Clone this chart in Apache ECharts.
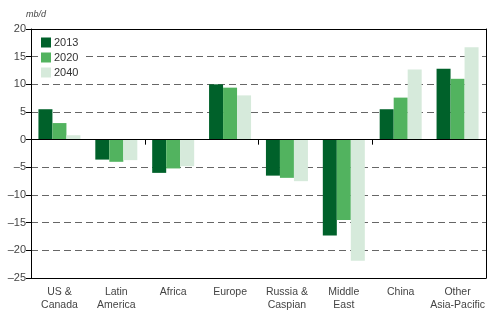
<!DOCTYPE html>
<html><head><meta charset="utf-8">
<script src="https://cdn.jsdelivr.net/npm/echarts@6/dist/echarts.min.js"></script>
<style>html,body{margin:0;padding:0;background:#fff}#c{width:497px;height:329px}</style>
</head><body><div id="c"></div>
<script>
const categories = ['US &\nCanada', 'Latin\nAmerica', 'Africa', 'Europe', 'Russia &\nCaspian', 'Middle\nEast', 'China', 'Other\nAsia-Pacific'];
const s2013 = [5.5, -3.6, -6.0, 10.0, -6.5, -17.3, 5.5, 12.8];
const s2020 = [3.0, -4.0, -5.2, 9.4, -6.9, -14.5, 7.6, 11.0];
const s2040 = [0.8, -3.7, -4.8, 8.0, -7.5, -21.9, 12.7, 16.7];
const yTicks = {min: -25, max: 20, interval: 5};

const chart = echarts.init(document.getElementById('c'));
const font = 'Liberation Sans, Arial, sans-serif';
function bar(name, data, color) {
  return {name, type: 'bar', data, barWidth: 14, barGap: '0%', itemStyle: {color}, xAxisIndex: 0, yAxisIndex: 0};
}
const frameLine = {show: true, onZero: false, lineStyle: {color: '#000', width: 1}};
chart.setOption({
  animation: false,
  textStyle: {fontFamily: font},
  title: {text: 'mb/d', left: 21, top: 5, textStyle: {fontSize: 9, fontStyle: 'italic', fontWeight: 'normal', color: '#444', fontFamily: font}},
  grid: {left: 31, right: 11, top: 29, bottom: 51},
  legend: {
    orient: 'vertical', left: 39, top: 35, itemWidth: 10, itemHeight: 10, itemGap: 4,
    backgroundColor: '#fff', padding: [2, 6, 2, 2], z: 20,
    textStyle: {fontSize: 11, color: '#333', fontFamily: font, padding: [0, 0, 0, -2]},
    icon: 'rect',
    data: ['2013', '2020', '2040']
  },
  xAxis: [
    {type: 'category', data: categories, position: 'bottom',
     axisLine: {onZero: true, lineStyle: {color: '#000', width: 1}},
     axisTick: {show: true, length: 5, lineStyle: {color: '#000'}},
     axisLabel: {show: false}, splitLine: {show: false}, z: 5},
    {type: 'category', data: categories, position: 'bottom',
     axisLine: frameLine, axisTick: {show: false},
     axisLabel: {show: true, fontSize: 10.5, color: '#444', lineHeight: 13, margin: 8, interval: 0, fontFamily: font}, z: 5},
    {type: 'category', data: categories, position: 'top',
     axisLine: frameLine, axisTick: {show: false}, axisLabel: {show: false}, z: 5}
  ],
  yAxis: [
    {type: 'value', min: yTicks.min, max: yTicks.max, interval: yTicks.interval,
     axisLine: {show: true, onZero: false, lineStyle: {color: '#000'}},
     axisTick: {show: true, length: 5, lineStyle: {color: '#000'}},
     axisLabel: {fontSize: 11, color: '#444', margin: 5, fontFamily: font,
       formatter: v => String(v).replace('-', '\u2013')},
     splitLine: {show: true, lineStyle: {color: '#666', type: [7, 4], width: 1}}},
    {type: 'value', min: yTicks.min, max: yTicks.max, interval: yTicks.interval, position: 'right',
     axisLine: frameLine, axisTick: {show: false}, axisLabel: {show: false}, splitLine: {show: false}, z: 5}
  ],
  series: [
    bar('2013', s2013, '#00612a'),
    bar('2020', s2020, '#52b35f'),
    bar('2040', s2040, '#d6eadb')
  ]
});
</script></body></html>
